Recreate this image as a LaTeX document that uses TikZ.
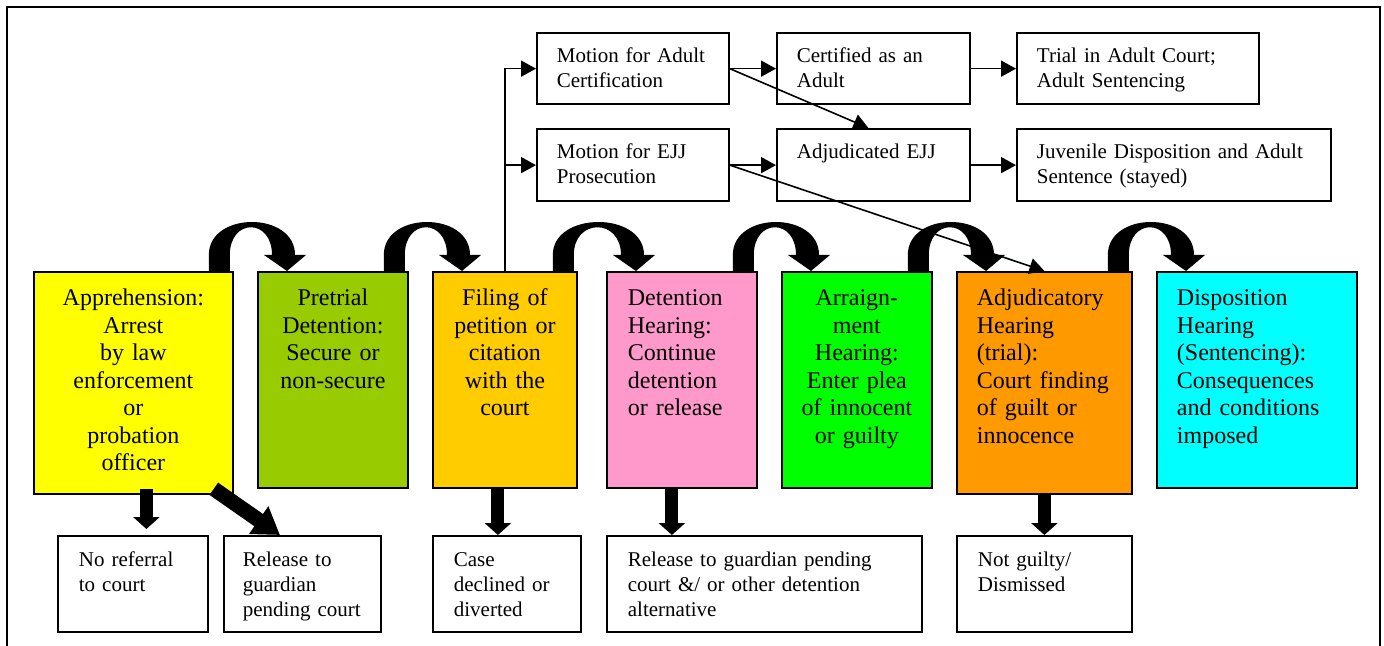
\documentclass[tikz,border=0pt]{standalone}
\usepackage{fontspec}
\setmainfont{Liberation Serif}
\usetikzlibrary{arrows.meta,calc}
\definecolor{arrestyellow}{HTML}{FFFF00}
\definecolor{pretrialgreen}{HTML}{99CC00}
\definecolor{filingorange}{HTML}{FFCC00}
\definecolor{hearingpink}{HTML}{FF99CC}
\definecolor{pleagreen}{HTML}{00FF00}
\definecolor{trialorange}{HTML}{FF9900}
\definecolor{sentencecyan}{HTML}{00FFFF}
\newcommand{\stagefont}{\fontsize{12}{13.75}\selectfont}
\newcommand{\notefont}{\fontsize{10.5}{12.5}\selectfont}

\begin{document}
\begin{tikzpicture}[
        x=0.5pt, y=-0.5pt,
        stage/.style={draw, line width=0.9pt, anchor=north west, inner xsep=3pt, inner ysep=0pt,
            align=center, font=\stagefont, text height=17pt, text depth=91pt},
        motion/.style={draw, line width=0.9pt, anchor=north west, inner xsep=10pt, inner ysep=0pt,
            align=left, font=\notefont, text height=15pt, text depth=20.75pt},
        outcome/.style={draw, line width=0.9pt, anchor=north west, inner xsep=10.5pt, inner ysep=0pt,
            align=left, font=\notefont, text height=15.5pt, text depth=32.5pt},
        fat/.style={line width=6.5pt, -{Triangle[width=13pt,length=6pt]}},
        fatter/.style={line width=7.5pt, -{Triangle[width=16pt,length=13pt]}},
        link/.style={line width=0.8pt, -{Triangle[width=8pt,length=7.5pt]}}
    ]
        \useasboundingbox (0,0) rectangle (1384,646);
        \draw[line width=1pt] (7,646) -- (7,7) -- (1380,7) -- (1380,646);

        \node[stage, fill=arrestyellow, text width=93.5pt, text depth=94pt] (s1) at (33,271)
            {Apprehension:\\Arrest\\by law\\enforcement\\or\\probation\\officer};
        \node[stage, fill=pretrialgreen, text width=69pt] (s2) at (257,271)
            {Pretrial\\Detention:\\Secure or\\non-secure};
        \node[stage, fill=filingorange, text width=66pt] (s3) at (432,271)
            {Filing of\\petition or\\citation\\with the\\court};
        \node[stage, fill=hearingpink, align=left, inner xsep=10.5pt, text width=54pt] (s4) at (606,271)
            {Detention\\Hearing:\\Continue\\detention\\or release};
        \node[stage, fill=pleagreen, text width=69pt] (s5) at (781,271)
            {Arraign-\\ment\\Hearing:\\Enter plea\\of innocent\\or guilty};
        \node[stage, fill=trialorange, align=left, inner xsep=10pt, text width=67.5pt, text depth=94pt] (s6) at (956,271)
            {Adjudicatory\\Hearing\\(trial):\\Court finding\\of guilt or\\innocence};
        \node[stage, fill=sentencecyan, align=left, inner xsep=10pt, text width=80pt] (s7) at (1156,271)
            {Disposition\\Hearing\\(Sentencing):\\Consequences\\and conditions\\imposed};

        \node[motion, text width=76pt] (m1) at (536,32) {Motion for Adult\\Certification};
        \node[motion, text width=76pt, text depth=21.25pt] (m2) at (536,128) {Motion for EJJ\\Prosecution};
        \node[motion, text width=76.5pt] (c1) at (776,32) {Certified as an\\Adult};
        \node[motion, text width=76.5pt, text depth=21.25pt] (a1) at (776,128) {Adjudicated EJJ};
        \node[motion, text width=101pt] (t1) at (1016,32) {Trial in Adult Court;\\Adult Sentencing};
        \node[motion, text width=137pt, text depth=21.25pt] (j1) at (1016,128) {Juvenile Disposition and Adult\\Sentence (stayed)};

        \node[outcome, text width=54pt] (o1) at (57,535) {No referral\\to court};
        \node[outcome, inner xsep=9.5pt, text width=59.5pt] (o2) at (223,535) {Release to\\guardian\\pending court};
        \node[outcome, text width=53pt] (o3) at (432,535) {Case\\declined or\\diverted};
        \node[outcome, text width=136.5pt] (o4) at (606,535) {Release to guardian pending\\court \&/ or other detention\\alternative};
        \node[outcome, text width=66.5pt] (o5) at (956,535) {Not guilty/\\Dismissed};

        \foreach \a/\b in {s1/s2, s2/s3, s3/s4, s4/s5, s5/s6, s6/s7}
            \fill ($(\a.north east)+(-25,0)$) -- ($(\a.north east)+(-25,-16)$)
                .. controls ($(\a.north east)+(-25,-60)$) and ($(\b.north west)+(38,-60)$) .. ($(\b.north west)+(38,-16)$)
                -- ($(\b.north west)+(49,-16)$) -- ($(\b.north west)+(30,0)$) -- ($(\b.north west)+(7,-16)$)
                -- ($(\b.north west)+(15,-16)$)
                .. controls ($(\b.north west)+(15,-53)$) and ($(\a.north east)+(-4,-53)$) .. ($(\a.north east)+(-4,-16)$)
                -- ($(\a.north east)+(-4,0)$) -- cycle;

        \draw[fat] ([xshift=6.5pt,yshift=3pt]s1.south) -- ([xshift=6.5pt,yshift=3pt]s1.south |- o1.north);
        \draw[fatter] ([xshift=-10pt,yshift=3pt]s1.south east) -- ([xshift=28.5pt]o2.north west);
        \draw[fat] ([xshift=-3.5pt]s3.south) -- ([xshift=-3.5pt]s3.south |- o3.north);
        \draw[fat] ([xshift=-5pt]s4.south) -- ([xshift=-5pt]s4.south |- o4.north);
        \draw[fat] (s6.south) -- (s6.south |- o5.north);

        \draw[link] (s3.north) |- (m1.west);
        \draw[link] (s3.north) |- (m2.west);
        \draw[link] (m1.east) -- (c1.west);
        \draw[link] (m2.east) -- (a1.west);
        \draw[link] (c1.east) -- (t1.west);
        \draw[link] (a1.east) -- (j1.west);
        \draw[link] (m1.east) -- ([xshift=-2.5pt]a1.north);
        \draw[link] (m2.east) -- (s6.north);
    \end{tikzpicture}
\end{document}
